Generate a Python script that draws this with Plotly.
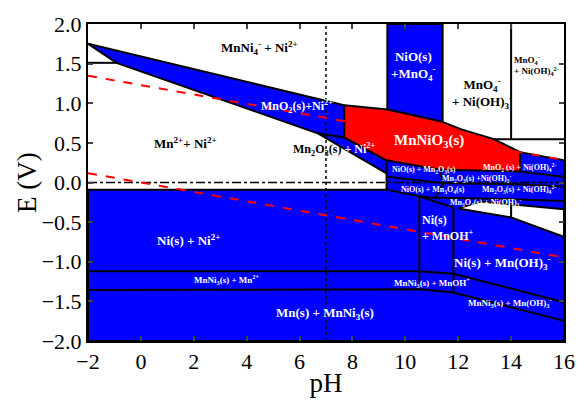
import plotly.graph_objects as go

# ---------------- data (pH, E / V) ----------------
# filled regions
MNO2_BAND_PH = [-2, 7.69, 7.69, 6.71, -0.92, -2]
MNO2_BAND_E = [1.75, 0.975, 0.568, 0.617, 1.51, 1.75]

MN2O3_WEDGE_PH = [6.71, 7.69, 9.29, 9.29, 6.71]
MN2O3_WEDGE_E = [0.617, 0.568, 0.28, 0.115, 0.617]

NIO_COLUMN_PH = [9.32, 11.41, 11.41, 9.32, 9.32]
NIO_COLUMN_E = [2.0, 2.0, 0.765, 0.92, 2.0]

LOWER_BLUE_PH = [-2, 16, 16, 14.34, 9.29, 9.29, -2, -2]
LOWER_BLUE_E = [-2.0, -2.0, 0.28, 0.383, 0.383, -0.09, -0.09, -2.0]

WHITE_WEDGE_PH = [12.0, 12.85, 16, 16, 14.0, 12.0]
WHITE_WEDGE_E = [-0.327, -0.24, -0.337, -0.687, -0.44, -0.327]

MNNIO3_PH = [7.69, 9.32, 11.41, 12.12, 13.35, 14.34, 14.34, 11.26, 9.29, 7.69, 7.69]
MNNIO3_E = [0.975, 0.92, 0.765, 0.67, 0.547, 0.383, 0.14, 0.165, 0.28, 0.568, 0.975]

# boundary lines
H_TOPLEFT_PH = [-2, -0.92]
H_TOPLEFT_E = [1.51, 1.51]
MNNI3_TOP_PH = [-2, 10.53, 11.82, 16]
MNNI3_TOP_E = [-1.12, -1.12, -1.152, -1.51]
MNNI3_BOT_PH = [-2, 10.53, 11.82, 16]
MNNI3_BOT_E = [-1.358, -1.346, -1.387, -1.745]
V1_PH = [10.53, 10.53]
V1_E = [-0.173, -1.346]
V2_PH = [11.82, 11.82]
V2_E = [-0.317, -1.387]
DIAG_PH = [9.29, 10.53, 11.82]
DIAG_E = [-0.09, -0.173, -0.317]
BOX_V_PH = [14.0, 14.0]
BOX_V_E = [2.0, 0.547]
BOX_H_PH = [13.35, 16]
BOX_H_E = [0.547, 0.547]
S1_PH = [9.29, 11.44]
S1_E = [0.074, -0.008]
S2_PH = [11.26, 11.44]
S2_E = [0.165, -0.008]
S3_PH = [14.34, 16]
S3_E = [0.136, 0.074]
S4_PH = [11.44, 14.0, 16]
S4_E = [-0.008, -0.02, -0.05]
S5_PH = [10.53, 11.14, 14.0, 16]
S5_E = [-0.173, -0.194, -0.21, -0.235]
S6_PH = [11.44, 11.14]
S6_E = [-0.008, -0.194]
WEDGE_V_PH = [14.0, 14.0]
WEDGE_V_E = [-0.285, -0.44]

# water stability lines and reference lines
WATER_UP_PH = [-2, 16]
WATER_UP_E = [1.347, 0.283]
WATER_DN_PH = [-2, 16]
WATER_DN_E = [0.118, -0.946]
ZERO_PH = [-2, 16]
ZERO_E = [0, 0]
PH7_PH = [7, 7]
PH7_E = [-2, 2]

# labels
LABELS = [
    ("MnNi<sub>4</sub><sup>-</sup> + Ni<sup>2+</sup>", 4.48, 1.70, "black", 13),
    ("Mn<sup>2+</sup>+ Ni<sup>2+</sup>", 1.68, 0.50, "black", 13),
    ("MnO<sub>2</sub>(s)+Ni<sup>2+</sup>", 5.92, 0.96, "white", 12),
    ("MnNiO<sub>3</sub>(s)", 10.9, 0.53, "white", 15),
    ("NiO(s)<br>+MnO<sub>4</sub><sup>-</sup>", 10.3, 1.47, "white", 13),
    ("MnO<sub>4</sub><sup>-</sup><br>+ Ni(OH)<sub>3</sub><sup>-</sup>", 12.9, 1.12, "black", 13),
    ("NiO(s) + Mn<sub>2</sub>O<sub>3</sub>(s)", 10.72, 0.16, "white", 8),
    ("MnO<sub>2</sub> (s) + Ni(OH)<sub>4</sub><sup>2-</sup>", 14.3, 0.185, "white", 8),
    ("Mn<sub>2</sub>O<sub>3</sub>(s) +Ni(OH)<sub>3</sub><sup>-</sup>", 12.68, 0.05, "white", 8),
    ("NiO(s) + Mn<sub>3</sub>O<sub>4</sub>(s)", 11.05, -0.09, "white", 8),
    ("Mn<sub>2</sub>O<sub>3</sub>(s) + Ni(OH)<sub>4</sub><sup>2-</sup>", 14.3, -0.09, "white", 8),
    ("Mn<sub>3</sub>O<sub>4</sub>(s) + Ni(OH)<sub>3</sub><sup>-</sup>", 13.05, -0.25, "white", 8),
    ("Ni(s) + Ni<sup>2+</sup>", 1.79, -0.73, "white", 13),
    ("Ni(s) + Mn(OH)<sub>3</sub><sup>-</sup>", 13.68, -1.01, "white", 13),
    ("MnNi<sub>3</sub>(s) + Mn<sup>2+</sup>", 3.23, -1.22, "white", 9),
    ("MnNi<sub>3</sub>(s) + MnOH<sup>+</sup>", 11.0, -1.26, "white", 9),
    ("MnNi<sub>3</sub>(s) + Mn(OH)<sub>3</sub><sup>-</sup>", 13.97, -1.51, "white", 9),
    ("Mn(s) + MnNi<sub>3</sub>(s)", 6.95, -1.65, "white", 13),
]
LEFT_LABELS = [
    ("MnO<sub>4</sub><sup>-</sup><br>+ Ni(OH)<sub>4</sub><sup>2-</sup>", 14.05, 1.48, "black", 9),
    ("Ni(s)<br>+ MnOH<sup>+</sup>", 10.55, -0.58, "white", 12),
]

BLUE = "#0000ff"
RED = "#ff0000"
FONT = "Liberation Serif"

fig = go.Figure()


def poly(xs, ys, color):
    fig.add_trace(go.Scatter(x=xs, y=ys, mode="lines", fill="toself",
                             fillcolor=color, line=dict(color="black", width=2),
                             hoverinfo="skip", showlegend=False))


def line(xs, ys, color="black", width=2, dash="solid"):
    fig.add_trace(go.Scatter(x=xs, y=ys, mode="lines",
                             line=dict(color=color, width=width, dash=dash),
                             hoverinfo="skip", showlegend=False))


poly(LOWER_BLUE_PH, LOWER_BLUE_E, BLUE)
poly(MNO2_BAND_PH, MNO2_BAND_E, BLUE)
poly(MN2O3_WEDGE_PH, MN2O3_WEDGE_E, BLUE)
poly(NIO_COLUMN_PH, NIO_COLUMN_E, BLUE)
poly(WHITE_WEDGE_PH, WHITE_WEDGE_E, "white")
poly(MNNIO3_PH, MNNIO3_E, RED)

for xs, ys in [(H_TOPLEFT_PH, H_TOPLEFT_E), (MNNI3_TOP_PH, MNNI3_TOP_E),
               (MNNI3_BOT_PH, MNNI3_BOT_E), (V1_PH, V1_E), (V2_PH, V2_E),
               (DIAG_PH, DIAG_E), (BOX_V_PH, BOX_V_E), (BOX_H_PH, BOX_H_E),
               (S1_PH, S1_E), (S2_PH, S2_E), (S3_PH, S3_E), (S4_PH, S4_E),
               (S5_PH, S5_E), (S6_PH, S6_E), (WEDGE_V_PH, WEDGE_V_E)]:
    line(xs, ys)

line(ZERO_PH, ZERO_E, width=1.5, dash="dashdot")
line(PH7_PH, PH7_E, width=1.5, dash="dot")
line(WATER_UP_PH, WATER_UP_E, color=RED, width=2, dash="dash")
line(WATER_DN_PH, WATER_DN_E, color=RED, width=2, dash="dash")

for text, x, y, col, size in LABELS:
    fig.add_annotation(x=x, y=y, text="<b>" + text + "</b>", showarrow=False,
                       font=dict(family=FONT, size=size, color=col))
for text, x, y, col, size in LEFT_LABELS:
    fig.add_annotation(x=x, y=y, text="<b>" + text + "</b>", showarrow=False,
                       xanchor="left", align="left",
                       font=dict(family=FONT, size=size, color=col))
fig.add_annotation(x=7.32, y=0.42, showarrow=False,
                   text="<b>Mn<sub>2</sub>O<sub>3</sub>(s) <span style='color:white'>+ Ni<sup>2+</sup></span></b>",
                   font=dict(family=FONT, size=12, color="black"))

# y-axis title as a rotated annotation
fig.add_annotation(xref="paper", yref="paper", x=-0.129, y=0.5,
                   xanchor="center", yanchor="middle",
                   text="E (V)", textangle=-90, showarrow=False,
                   font=dict(family=FONT, size=27, color="black"))

fig.update_layout(
    width=587, height=405,
    margin=dict(l=88, r=12, t=24, b=57),
    plot_bgcolor="white", paper_bgcolor="white",
    font=dict(family=FONT, color="black"),
    xaxis=dict(range=[-2, 16], dtick=2, tick0=-2, ticks="inside", ticklen=5,
               tickwidth=1.5, mirror="ticks", showline=True, linewidth=2,
               linecolor="black", showgrid=False, zeroline=False,
               ticklabeloverflow="allow",
               tickfont=dict(family=FONT, size=22),
               title=dict(text="pH", font=dict(family=FONT, size=27), standoff=0)),
    yaxis=dict(range=[-2, 2], dtick=0.5, tick0=-2, ticks="inside", ticklen=5,
               tickwidth=1.5, mirror="ticks", showline=True, linewidth=2,
               linecolor="black", showgrid=False, zeroline=False,
               tickformat=".1f", ticklabeloverflow="allow",
               tickfont=dict(family=FONT, size=22)),
)

# remove the browser's default 8px page margin so the figure fills the window
fig.write_html("out.html",
               config={"displayModeBar": False},
               post_script="document.body.style.margin='0';"
                           "document.body.style.overflow='hidden';")
